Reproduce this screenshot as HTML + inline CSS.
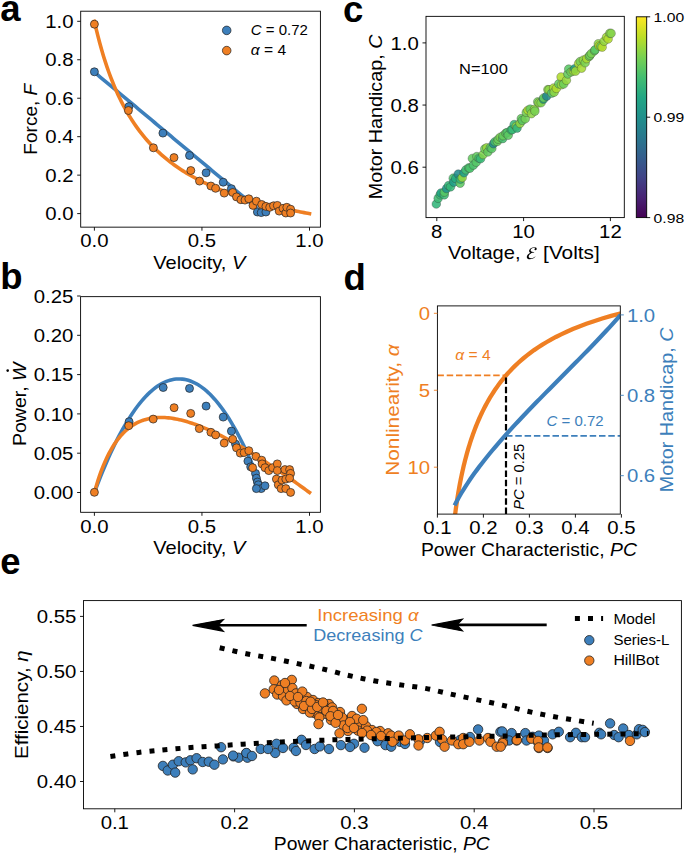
<!DOCTYPE html>
<html><head><meta charset="utf-8"><style>
html,body{margin:0;padding:0;background:#fff;}
svg{display:block;font-family:"Liberation Sans", sans-serif;} text{white-space:pre;}
</style></head><body>
<svg width="685" height="854" viewBox="0 0 685 854">
<rect width="685" height="854" fill="#fff"/>
<defs>
<clipPath id="clipa"><rect x="80.7" y="11.2" width="239.7" height="215.95"/></clipPath>
<clipPath id="clipb"><rect x="80.6" y="296.65" width="239.8" height="215.65"/></clipPath>
<clipPath id="clipc"><rect x="426" y="16.35" width="198.3" height="201.25"/></clipPath>
<clipPath id="clipd"><rect x="437.4" y="305.9" width="182.9" height="208.2"/></clipPath>
<clipPath id="clipe"><rect x="83.5" y="600.6" width="597.9" height="208.2"/></clipPath>
</defs>
<text x="0.20" y="20.90" font-size="36.5" font-weight="bold" fill="#000">a</text>
<g clip-path="url(#clipa)">
<polyline points="94.40,72.18 97.13,74.47 99.87,76.76 102.60,79.04 105.34,81.33 108.07,83.62 110.81,85.90 113.54,88.19 116.27,90.48 119.01,92.77 121.74,95.05 124.48,97.34 127.21,99.63 129.95,101.91 132.68,104.20 135.41,106.49 138.15,108.78 140.88,111.06 143.62,113.35 146.35,115.64 149.09,117.92 151.82,120.21 154.56,122.50 157.29,124.79 160.02,127.07 162.76,129.36 165.49,131.65 168.23,133.93 170.96,136.22 173.70,138.51 176.43,140.79 179.16,143.08 181.90,145.37 184.63,147.66 187.37,149.94 190.10,152.23 192.84,154.52 195.57,156.80 198.30,159.09 201.04,161.38 203.77,163.67 206.51,165.95 209.24,168.24 211.98,170.53 214.71,172.81 217.44,175.10 220.18,177.39 222.91,179.67 225.65,181.96 228.38,184.25 231.12,186.54 233.85,188.82 236.58,191.11 239.32,193.40 242.05,195.68 244.79,197.97 247.52,200.26 250.26,202.55 252.99,204.83 255.72,207.12" fill="none" stroke="#3d7fbb" stroke-width="3.60" stroke-linecap="square"/>
<polyline points="94.40,21.30 96.21,29.12 98.02,36.44 99.82,43.32 101.63,49.79 103.44,55.89 105.25,61.64 107.05,67.09 108.86,72.24 110.67,77.13 112.48,81.77 114.28,86.19 116.09,90.39 117.90,94.40 119.71,98.22 121.51,101.87 123.32,105.37 125.13,108.71 126.94,111.91 128.74,114.98 130.55,117.93 132.36,120.77 134.17,123.49 135.97,126.11 137.78,128.63 139.59,131.06 141.40,133.40 143.20,135.66 145.01,137.85 146.82,139.95 148.63,141.99 150.43,143.96 152.24,145.87 154.05,147.71 155.86,149.50 157.66,151.23 159.47,152.91 161.28,154.54 163.09,156.12 164.89,157.66 166.70,159.15 168.51,160.60 170.32,162.01 172.13,163.38 173.93,164.71 175.74,166.01 177.55,167.27 179.36,168.50 181.16,169.70 182.97,170.87 184.78,172.01 186.59,173.12 188.39,174.20 190.20,175.26 192.01,176.29 193.82,177.30 195.62,178.28 197.43,179.24 199.24,180.18 201.05,181.10 202.85,182.00 204.66,182.87 206.47,183.73 208.28,184.57 210.08,185.40 211.89,186.20 213.70,186.99 215.51,187.76 217.31,188.52 219.12,189.26 220.93,189.98 222.74,190.70 224.54,191.39 226.35,192.08 228.16,192.75 229.97,193.41 231.77,194.05 233.58,194.69 235.39,195.31 237.20,195.92 239.01,196.52 240.81,197.10 242.62,197.68 244.43,198.25 246.24,198.81 248.04,199.36 249.85,199.89 251.66,200.42 253.47,200.94 255.27,201.45 257.08,201.96 258.89,202.45 260.70,202.94 262.50,203.42 264.31,203.89 266.12,204.35 267.93,204.81 269.73,205.26 271.54,205.70 273.35,206.13 275.16,206.56 276.96,206.98 278.77,207.40 280.58,207.81 282.39,208.21 284.19,208.61 286.00,209.00 287.81,209.38 289.62,209.76 291.42,210.14 293.23,210.50 295.04,210.87 296.85,211.23 298.65,211.58 300.46,211.93 302.27,212.27 304.08,212.61 305.88,212.94 307.69,213.27 309.50,213.60" fill="none" stroke="#ef7f23" stroke-width="3.60" stroke-linecap="square"/>
<circle cx="94.40" cy="71.80" r="4.00" fill="#3d7fbb" stroke="#222" stroke-width="0.70" />
<circle cx="128.90" cy="106.60" r="4.00" fill="#3d7fbb" stroke="#222" stroke-width="0.70" />
<circle cx="162.90" cy="133.10" r="4.00" fill="#3d7fbb" stroke="#222" stroke-width="0.70" />
<circle cx="189.50" cy="155.50" r="4.00" fill="#3d7fbb" stroke="#222" stroke-width="0.70" />
<circle cx="206.10" cy="172.80" r="4.00" fill="#3d7fbb" stroke="#222" stroke-width="0.70" />
<circle cx="223.20" cy="182.20" r="4.00" fill="#3d7fbb" stroke="#222" stroke-width="0.70" />
<circle cx="231.40" cy="188.70" r="4.00" fill="#3d7fbb" stroke="#222" stroke-width="0.70" />
<circle cx="257.40" cy="212.00" r="4.00" fill="#3d7fbb" stroke="#222" stroke-width="0.70" />
<circle cx="261.20" cy="212.60" r="4.00" fill="#3d7fbb" stroke="#222" stroke-width="0.70" />
<circle cx="265.90" cy="212.00" r="4.00" fill="#3d7fbb" stroke="#222" stroke-width="0.70" />
<circle cx="94.40" cy="24.20" r="4.00" fill="#ef7f23" stroke="#222" stroke-width="0.70" />
<circle cx="128.40" cy="110.50" r="4.00" fill="#ef7f23" stroke="#222" stroke-width="0.70" />
<circle cx="153.40" cy="147.80" r="4.00" fill="#ef7f23" stroke="#222" stroke-width="0.70" />
<circle cx="174.00" cy="157.60" r="4.00" fill="#ef7f23" stroke="#222" stroke-width="0.70" />
<circle cx="190.80" cy="170.50" r="4.00" fill="#ef7f23" stroke="#222" stroke-width="0.70" />
<circle cx="199.50" cy="181.10" r="4.00" fill="#ef7f23" stroke="#222" stroke-width="0.70" />
<circle cx="210.90" cy="186.00" r="4.00" fill="#ef7f23" stroke="#222" stroke-width="0.70" />
<circle cx="215.60" cy="188.30" r="4.00" fill="#ef7f23" stroke="#222" stroke-width="0.70" />
<circle cx="224.20" cy="193.10" r="4.00" fill="#ef7f23" stroke="#222" stroke-width="0.70" />
<circle cx="232.70" cy="192.50" r="4.00" fill="#ef7f23" stroke="#222" stroke-width="0.70" />
<circle cx="236.50" cy="196.90" r="4.00" fill="#ef7f23" stroke="#222" stroke-width="0.70" />
<circle cx="240.90" cy="199.70" r="4.00" fill="#ef7f23" stroke="#222" stroke-width="0.70" />
<circle cx="245.00" cy="200.10" r="4.00" fill="#ef7f23" stroke="#222" stroke-width="0.70" />
<circle cx="248.80" cy="198.80" r="4.00" fill="#ef7f23" stroke="#222" stroke-width="0.70" />
<circle cx="253.00" cy="205.40" r="4.00" fill="#ef7f23" stroke="#222" stroke-width="0.70" />
<circle cx="256.40" cy="201.20" r="4.00" fill="#ef7f23" stroke="#222" stroke-width="0.70" />
<circle cx="261.70" cy="204.50" r="4.00" fill="#ef7f23" stroke="#222" stroke-width="0.70" />
<circle cx="265.90" cy="206.40" r="4.00" fill="#ef7f23" stroke="#222" stroke-width="0.70" />
<circle cx="269.70" cy="207.30" r="4.00" fill="#ef7f23" stroke="#222" stroke-width="0.70" />
<circle cx="273.50" cy="205.80" r="4.00" fill="#ef7f23" stroke="#222" stroke-width="0.70" />
<circle cx="277.30" cy="205.40" r="4.00" fill="#ef7f23" stroke="#222" stroke-width="0.70" />
<circle cx="279.20" cy="211.10" r="4.00" fill="#ef7f23" stroke="#222" stroke-width="0.70" />
<circle cx="283.00" cy="208.30" r="4.00" fill="#ef7f23" stroke="#222" stroke-width="0.70" />
<circle cx="285.80" cy="213.00" r="4.00" fill="#ef7f23" stroke="#222" stroke-width="0.70" />
<circle cx="286.80" cy="207.30" r="4.00" fill="#ef7f23" stroke="#222" stroke-width="0.70" />
<circle cx="290.60" cy="209.20" r="4.00" fill="#ef7f23" stroke="#222" stroke-width="0.70" />
<circle cx="290.60" cy="213.00" r="4.00" fill="#ef7f23" stroke="#222" stroke-width="0.70" />
</g>
<rect x="80.70" y="11.20" width="239.70" height="215.95" fill="none" stroke="#000" stroke-width="0.9"/>
<line x1="77.20" y1="213.60" x2="80.70" y2="213.60" stroke="#000" stroke-width="0.90" />
<text x="73.50" y="220.20" font-size="17.80" fill="#000" text-anchor="end" textLength="28.31" lengthAdjust="spacingAndGlyphs">0.0</text>
<line x1="77.20" y1="175.14" x2="80.70" y2="175.14" stroke="#000" stroke-width="0.90" />
<text x="73.50" y="181.74" font-size="17.80" fill="#000" text-anchor="end" textLength="28.31" lengthAdjust="spacingAndGlyphs">0.2</text>
<line x1="77.20" y1="136.68" x2="80.70" y2="136.68" stroke="#000" stroke-width="0.90" />
<text x="73.50" y="143.28" font-size="17.80" fill="#000" text-anchor="end" textLength="28.31" lengthAdjust="spacingAndGlyphs">0.4</text>
<line x1="77.20" y1="98.22" x2="80.70" y2="98.22" stroke="#000" stroke-width="0.90" />
<text x="73.50" y="104.82" font-size="17.80" fill="#000" text-anchor="end" textLength="28.31" lengthAdjust="spacingAndGlyphs">0.6</text>
<line x1="77.20" y1="59.76" x2="80.70" y2="59.76" stroke="#000" stroke-width="0.90" />
<text x="73.50" y="66.36" font-size="17.80" fill="#000" text-anchor="end" textLength="28.31" lengthAdjust="spacingAndGlyphs">0.8</text>
<line x1="77.20" y1="21.30" x2="80.70" y2="21.30" stroke="#000" stroke-width="0.90" />
<text x="73.50" y="27.90" font-size="17.80" fill="#000" text-anchor="end" textLength="28.31" lengthAdjust="spacingAndGlyphs">1.0</text>
<line x1="94.40" y1="227.15" x2="94.40" y2="230.65" stroke="#000" stroke-width="0.90" />
<text x="94.40" y="247.45" font-size="17.80" fill="#000" text-anchor="middle" textLength="28.31" lengthAdjust="spacingAndGlyphs">0.0</text>
<line x1="201.95" y1="227.15" x2="201.95" y2="230.65" stroke="#000" stroke-width="0.90" />
<text x="201.95" y="247.45" font-size="17.80" fill="#000" text-anchor="middle" textLength="28.31" lengthAdjust="spacingAndGlyphs">0.5</text>
<line x1="309.50" y1="227.15" x2="309.50" y2="230.65" stroke="#000" stroke-width="0.90" />
<text x="309.50" y="247.45" font-size="17.80" fill="#000" text-anchor="middle" textLength="28.31" lengthAdjust="spacingAndGlyphs">1.0</text>
<text x="37.20" y="119.20" font-size="17.80" fill="#000" text-anchor="middle" textLength="70.84" lengthAdjust="spacingAndGlyphs" transform="rotate(-90 37.20 119.20)">Force, <tspan font-style="italic">F</tspan></text>
<text x="199.30" y="268.50" font-size="17.80" fill="#000" text-anchor="middle" textLength="92.07" lengthAdjust="spacingAndGlyphs">Velocity, <tspan font-style="italic">V</tspan></text>
<circle cx="226.70" cy="30.40" r="4.30" fill="#3d7fbb" stroke="#222" stroke-width="0.70" />
<circle cx="226.70" cy="50.60" r="4.30" fill="#ef7f23" stroke="#222" stroke-width="0.70" />
<text x="250.80" y="35.00" font-size="14.00" fill="#000" text-anchor="start" textLength="57.12" lengthAdjust="spacingAndGlyphs"><tspan font-style="italic">C</tspan> = 0.72</text>
<text x="250.80" y="55.00" font-size="14.00" fill="#000" text-anchor="start" textLength="35.42" lengthAdjust="spacingAndGlyphs"><tspan font-style="italic">α</tspan> = 4</text>
<text x="0.20" y="289.20" font-size="36.5" font-weight="bold" fill="#000">b</text>
<g clip-path="url(#clipb)">
<polyline points="94.40,492.50 96.44,487.08 98.48,481.79 100.53,476.63 102.57,471.61 104.61,466.72 106.65,461.96 108.69,457.33 110.74,452.84 112.78,448.48 114.82,444.25 116.86,440.16 118.91,436.19 120.95,432.36 122.99,428.66 125.03,425.10 127.07,421.67 129.12,418.37 131.16,415.20 133.20,412.16 135.24,409.26 137.28,406.49 139.33,403.85 141.37,401.35 143.41,398.98 145.45,396.74 147.49,394.63 149.54,392.65 151.58,390.81 153.62,389.10 155.66,387.52 157.70,386.08 159.75,384.77 161.79,383.59 163.83,382.54 165.87,381.63 167.92,380.85 169.96,380.20 172.00,379.68 174.04,379.30 176.08,379.04 178.13,378.93 180.17,378.94 182.21,379.09 184.25,379.36 186.29,379.78 188.34,380.32 190.38,381.00 192.42,381.81 194.46,382.75 196.50,383.82 198.55,385.03 200.59,386.37 202.63,387.84 204.67,389.44 206.71,391.18 208.76,393.05 210.80,395.05 212.84,397.19 214.88,399.45 216.93,401.85 218.97,404.39 221.01,407.05 223.05,409.85 225.09,412.78 227.14,415.84 229.18,419.03 231.22,422.36 233.26,425.82 235.30,429.42 237.35,433.14 239.39,437.00 241.43,440.99 243.47,445.11 245.51,449.37 247.56,453.76 249.60,458.28 251.64,462.93 253.68,467.72 255.72,472.63" fill="none" stroke="#3d7fbb" stroke-width="3.60" stroke-linecap="square"/>
<polyline points="94.40,492.50 96.21,486.16 98.02,480.33 99.82,474.95 101.63,469.99 103.44,465.41 105.25,461.18 107.05,457.27 108.86,453.66 110.67,450.31 112.48,447.22 114.28,444.36 116.09,441.72 117.90,439.27 119.71,437.02 121.51,434.94 123.32,433.02 125.13,431.25 126.94,429.63 128.74,428.14 130.55,426.78 132.36,425.54 134.17,424.41 135.97,423.38 137.78,422.46 139.59,421.62 141.40,420.88 143.20,420.22 145.01,419.64 146.82,419.14 148.63,418.71 150.43,418.35 152.24,418.05 154.05,417.82 155.86,417.64 157.66,417.52 159.47,417.46 161.28,417.44 163.09,417.48 164.89,417.56 166.70,417.69 168.51,417.86 170.32,418.07 172.13,418.32 173.93,418.61 175.74,418.94 177.55,419.30 179.36,419.69 181.16,420.12 182.97,420.58 184.78,421.07 186.59,421.58 188.39,422.13 190.20,422.70 192.01,423.29 193.82,423.92 195.62,424.56 197.43,425.23 199.24,425.92 201.05,426.64 202.85,427.37 204.66,428.12 206.47,428.90 208.28,429.69 210.08,430.50 211.89,431.33 213.70,432.18 215.51,433.04 217.31,433.92 219.12,434.81 220.93,435.72 222.74,436.64 224.54,437.58 226.35,438.53 228.16,439.50 229.97,440.48 231.77,441.47 233.58,442.47 235.39,443.49 237.20,444.52 239.01,445.56 240.81,446.61 242.62,447.67 244.43,448.74 246.24,449.82 248.04,450.91 249.85,452.01 251.66,453.12 253.47,454.24 255.27,455.37 257.08,456.51 258.89,457.66 260.70,458.81 262.50,459.97 264.31,461.14 266.12,462.32 267.93,463.51 269.73,464.70 271.54,465.90 273.35,467.11 275.16,468.32 276.96,469.54 278.77,470.77 280.58,472.00 282.39,473.24 284.19,474.49 286.00,475.74 287.81,477.00 289.62,478.26 291.42,479.53 293.23,480.80 295.04,482.08 296.85,483.37 298.65,484.66 300.46,485.95 302.27,487.25 304.08,488.56 305.88,489.87 307.69,491.18 309.50,492.50" fill="none" stroke="#ef7f23" stroke-width="3.60" stroke-linecap="square"/>
<circle cx="129.10" cy="421.70" r="4.00" fill="#3d7fbb" stroke="#222" stroke-width="0.70" />
<circle cx="163.20" cy="387.50" r="4.00" fill="#3d7fbb" stroke="#222" stroke-width="0.70" />
<circle cx="189.50" cy="388.40" r="4.00" fill="#3d7fbb" stroke="#222" stroke-width="0.70" />
<circle cx="206.10" cy="406.10" r="4.00" fill="#3d7fbb" stroke="#222" stroke-width="0.70" />
<circle cx="223.20" cy="417.10" r="4.00" fill="#3d7fbb" stroke="#222" stroke-width="0.70" />
<circle cx="231.40" cy="431.10" r="4.00" fill="#3d7fbb" stroke="#222" stroke-width="0.70" />
<circle cx="235.50" cy="444.00" r="4.00" fill="#3d7fbb" stroke="#222" stroke-width="0.70" />
<circle cx="247.90" cy="461.10" r="4.00" fill="#3d7fbb" stroke="#222" stroke-width="0.70" />
<circle cx="250.70" cy="466.80" r="4.00" fill="#3d7fbb" stroke="#222" stroke-width="0.70" />
<circle cx="255.50" cy="473.40" r="4.00" fill="#3d7fbb" stroke="#222" stroke-width="0.70" />
<circle cx="256.40" cy="478.20" r="4.00" fill="#3d7fbb" stroke="#222" stroke-width="0.70" />
<circle cx="257.40" cy="482.00" r="4.00" fill="#3d7fbb" stroke="#222" stroke-width="0.70" />
<circle cx="258.30" cy="484.80" r="4.00" fill="#3d7fbb" stroke="#222" stroke-width="0.70" />
<circle cx="261.20" cy="488.60" r="4.00" fill="#3d7fbb" stroke="#222" stroke-width="0.70" />
<circle cx="265.00" cy="485.80" r="4.00" fill="#3d7fbb" stroke="#222" stroke-width="0.70" />
<circle cx="256.40" cy="488.60" r="4.00" fill="#3d7fbb" stroke="#222" stroke-width="0.70" />
<circle cx="94.40" cy="492.30" r="4.00" fill="#ef7f23" stroke="#222" stroke-width="0.70" />
<circle cx="128.70" cy="425.70" r="4.00" fill="#ef7f23" stroke="#222" stroke-width="0.70" />
<circle cx="153.20" cy="419.10" r="4.00" fill="#ef7f23" stroke="#222" stroke-width="0.70" />
<circle cx="174.10" cy="407.70" r="4.00" fill="#ef7f23" stroke="#222" stroke-width="0.70" />
<circle cx="190.70" cy="413.40" r="4.00" fill="#ef7f23" stroke="#222" stroke-width="0.70" />
<circle cx="199.30" cy="428.60" r="4.00" fill="#ef7f23" stroke="#222" stroke-width="0.70" />
<circle cx="210.90" cy="432.30" r="4.00" fill="#ef7f23" stroke="#222" stroke-width="0.70" />
<circle cx="215.60" cy="434.90" r="4.00" fill="#ef7f23" stroke="#222" stroke-width="0.70" />
<circle cx="224.20" cy="443.10" r="4.00" fill="#ef7f23" stroke="#222" stroke-width="0.70" />
<circle cx="232.70" cy="439.30" r="4.00" fill="#ef7f23" stroke="#222" stroke-width="0.70" />
<circle cx="236.50" cy="447.80" r="4.00" fill="#ef7f23" stroke="#222" stroke-width="0.70" />
<circle cx="240.30" cy="453.10" r="4.00" fill="#ef7f23" stroke="#222" stroke-width="0.70" />
<circle cx="244.10" cy="452.60" r="4.00" fill="#ef7f23" stroke="#222" stroke-width="0.70" />
<circle cx="248.80" cy="450.70" r="4.00" fill="#ef7f23" stroke="#222" stroke-width="0.70" />
<circle cx="256.00" cy="456.40" r="4.00" fill="#ef7f23" stroke="#222" stroke-width="0.70" />
<circle cx="252.60" cy="467.70" r="4.00" fill="#ef7f23" stroke="#222" stroke-width="0.70" />
<circle cx="261.70" cy="460.20" r="4.00" fill="#ef7f23" stroke="#222" stroke-width="0.70" />
<circle cx="262.10" cy="463.90" r="4.00" fill="#ef7f23" stroke="#222" stroke-width="0.70" />
<circle cx="265.00" cy="467.70" r="4.00" fill="#ef7f23" stroke="#222" stroke-width="0.70" />
<circle cx="268.80" cy="470.60" r="4.00" fill="#ef7f23" stroke="#222" stroke-width="0.70" />
<circle cx="272.60" cy="467.70" r="4.00" fill="#ef7f23" stroke="#222" stroke-width="0.70" />
<circle cx="277.30" cy="463.90" r="4.00" fill="#ef7f23" stroke="#222" stroke-width="0.70" />
<circle cx="277.30" cy="470.60" r="4.00" fill="#ef7f23" stroke="#222" stroke-width="0.70" />
<circle cx="284.90" cy="469.60" r="4.00" fill="#ef7f23" stroke="#222" stroke-width="0.70" />
<circle cx="289.60" cy="469.60" r="4.00" fill="#ef7f23" stroke="#222" stroke-width="0.70" />
<circle cx="290.60" cy="473.40" r="4.00" fill="#ef7f23" stroke="#222" stroke-width="0.70" />
<circle cx="276.40" cy="479.10" r="4.00" fill="#ef7f23" stroke="#222" stroke-width="0.70" />
<circle cx="278.30" cy="484.80" r="4.00" fill="#ef7f23" stroke="#222" stroke-width="0.70" />
<circle cx="282.00" cy="480.10" r="4.00" fill="#ef7f23" stroke="#222" stroke-width="0.70" />
<circle cx="285.80" cy="479.10" r="4.00" fill="#ef7f23" stroke="#222" stroke-width="0.70" />
<circle cx="289.60" cy="478.20" r="4.00" fill="#ef7f23" stroke="#222" stroke-width="0.70" />
<circle cx="281.10" cy="488.60" r="4.00" fill="#ef7f23" stroke="#222" stroke-width="0.70" />
<circle cx="285.80" cy="488.60" r="4.00" fill="#ef7f23" stroke="#222" stroke-width="0.70" />
<circle cx="290.60" cy="492.40" r="4.00" fill="#ef7f23" stroke="#222" stroke-width="0.70" />
</g>
<rect x="80.60" y="296.65" width="239.80" height="215.65" fill="none" stroke="#000" stroke-width="0.9"/>
<line x1="77.10" y1="492.50" x2="80.60" y2="492.50" stroke="#000" stroke-width="0.90" />
<text x="73.40" y="499.10" font-size="17.80" fill="#000" text-anchor="end" textLength="39.63" lengthAdjust="spacingAndGlyphs">0.00</text>
<line x1="77.10" y1="453.20" x2="80.60" y2="453.20" stroke="#000" stroke-width="0.90" />
<text x="73.40" y="459.80" font-size="17.80" fill="#000" text-anchor="end" textLength="39.63" lengthAdjust="spacingAndGlyphs">0.05</text>
<line x1="77.10" y1="413.90" x2="80.60" y2="413.90" stroke="#000" stroke-width="0.90" />
<text x="73.40" y="420.50" font-size="17.80" fill="#000" text-anchor="end" textLength="39.63" lengthAdjust="spacingAndGlyphs">0.10</text>
<line x1="77.10" y1="374.60" x2="80.60" y2="374.60" stroke="#000" stroke-width="0.90" />
<text x="73.40" y="381.20" font-size="17.80" fill="#000" text-anchor="end" textLength="39.63" lengthAdjust="spacingAndGlyphs">0.15</text>
<line x1="77.10" y1="335.30" x2="80.60" y2="335.30" stroke="#000" stroke-width="0.90" />
<text x="73.40" y="341.90" font-size="17.80" fill="#000" text-anchor="end" textLength="39.63" lengthAdjust="spacingAndGlyphs">0.20</text>
<line x1="77.10" y1="296.00" x2="80.60" y2="296.00" stroke="#000" stroke-width="0.90" />
<text x="73.40" y="302.60" font-size="17.80" fill="#000" text-anchor="end" textLength="39.63" lengthAdjust="spacingAndGlyphs">0.25</text>
<line x1="94.40" y1="512.30" x2="94.40" y2="515.80" stroke="#000" stroke-width="0.90" />
<text x="94.40" y="532.60" font-size="17.80" fill="#000" text-anchor="middle" textLength="28.31" lengthAdjust="spacingAndGlyphs">0.0</text>
<line x1="201.95" y1="512.30" x2="201.95" y2="515.80" stroke="#000" stroke-width="0.90" />
<text x="201.95" y="532.60" font-size="17.80" fill="#000" text-anchor="middle" textLength="28.31" lengthAdjust="spacingAndGlyphs">0.5</text>
<line x1="309.50" y1="512.30" x2="309.50" y2="515.80" stroke="#000" stroke-width="0.90" />
<text x="309.50" y="532.60" font-size="17.80" fill="#000" text-anchor="middle" textLength="28.31" lengthAdjust="spacingAndGlyphs">1.0</text>
<text x="26.00" y="404.30" font-size="17.80" fill="#000" text-anchor="middle" textLength="83.48" lengthAdjust="spacingAndGlyphs" transform="rotate(-90 26.00 404.30)">Power, <tspan font-style="italic">W</tspan></text>
<circle cx="7.70" cy="370.60" r="1.30" fill="#000" stroke="none" stroke-width="0.00" />
<text x="199.30" y="553.80" font-size="17.80" fill="#000" text-anchor="middle" textLength="92.07" lengthAdjust="spacingAndGlyphs">Velocity, <tspan font-style="italic">V</tspan></text>
<text x="343.00" y="22.20" font-size="36.5" font-weight="bold" fill="#000">c</text>
<g clip-path="url(#clipc)">
<circle cx="436.30" cy="204.02" r="4.30" fill="#32b57a" stroke="#333" stroke-width="0.60" fill-opacity="0.88" stroke-opacity="0.55"/>
<circle cx="438.17" cy="198.37" r="4.30" fill="#3dbb74" stroke="#333" stroke-width="0.60" fill-opacity="0.88" stroke-opacity="0.55"/>
<circle cx="440.15" cy="194.86" r="4.30" fill="#3bba75" stroke="#333" stroke-width="0.60" fill-opacity="0.88" stroke-opacity="0.55"/>
<circle cx="440.97" cy="192.99" r="4.30" fill="#21a784" stroke="#333" stroke-width="0.60" fill-opacity="0.88" stroke-opacity="0.55"/>
<circle cx="444.29" cy="194.84" r="4.30" fill="#3dbb74" stroke="#333" stroke-width="0.60" fill-opacity="0.88" stroke-opacity="0.55"/>
<circle cx="444.38" cy="192.16" r="4.30" fill="#57c665" stroke="#333" stroke-width="0.60" fill-opacity="0.88" stroke-opacity="0.55"/>
<circle cx="446.55" cy="188.57" r="4.30" fill="#1f958b" stroke="#333" stroke-width="0.60" fill-opacity="0.88" stroke-opacity="0.55"/>
<circle cx="448.67" cy="185.52" r="4.30" fill="#33b679" stroke="#333" stroke-width="0.60" fill-opacity="0.88" stroke-opacity="0.55"/>
<circle cx="450.55" cy="186.85" r="4.30" fill="#35b778" stroke="#333" stroke-width="0.60" fill-opacity="0.88" stroke-opacity="0.55"/>
<circle cx="453.20" cy="178.17" r="4.30" fill="#49c16d" stroke="#333" stroke-width="0.60" fill-opacity="0.88" stroke-opacity="0.55"/>
<circle cx="453.76" cy="182.14" r="4.30" fill="#1e9f88" stroke="#333" stroke-width="0.60" fill-opacity="0.88" stroke-opacity="0.55"/>
<circle cx="455.68" cy="178.56" r="4.30" fill="#27ad80" stroke="#333" stroke-width="0.60" fill-opacity="0.88" stroke-opacity="0.55"/>
<circle cx="458.25" cy="174.10" r="4.30" fill="#228b8d" stroke="#333" stroke-width="0.60" fill-opacity="0.88" stroke-opacity="0.55"/>
<circle cx="460.13" cy="183.28" r="4.30" fill="#5bc862" stroke="#333" stroke-width="0.60" fill-opacity="0.88" stroke-opacity="0.55"/>
<circle cx="460.42" cy="179.13" r="4.30" fill="#33b679" stroke="#333" stroke-width="0.60" fill-opacity="0.88" stroke-opacity="0.55"/>
<circle cx="462.21" cy="177.66" r="4.30" fill="#92d741" stroke="#333" stroke-width="0.60" fill-opacity="0.88" stroke-opacity="0.55"/>
<circle cx="464.04" cy="172.75" r="4.30" fill="#1ea087" stroke="#333" stroke-width="0.60" fill-opacity="0.88" stroke-opacity="0.55"/>
<circle cx="465.91" cy="169.87" r="4.30" fill="#42be71" stroke="#333" stroke-width="0.60" fill-opacity="0.88" stroke-opacity="0.55"/>
<circle cx="468.67" cy="167.91" r="4.30" fill="#4bc26c" stroke="#333" stroke-width="0.60" fill-opacity="0.88" stroke-opacity="0.55"/>
<circle cx="469.89" cy="168.26" r="4.30" fill="#4bc26c" stroke="#333" stroke-width="0.60" fill-opacity="0.88" stroke-opacity="0.55"/>
<circle cx="472.34" cy="158.43" r="4.30" fill="#62ca5f" stroke="#333" stroke-width="0.60" fill-opacity="0.88" stroke-opacity="0.55"/>
<circle cx="473.38" cy="165.15" r="4.30" fill="#4dc26b" stroke="#333" stroke-width="0.60" fill-opacity="0.88" stroke-opacity="0.55"/>
<circle cx="476.21" cy="162.26" r="4.30" fill="#55c666" stroke="#333" stroke-width="0.60" fill-opacity="0.88" stroke-opacity="0.55"/>
<circle cx="476.81" cy="156.53" r="4.30" fill="#62ca5f" stroke="#333" stroke-width="0.60" fill-opacity="0.88" stroke-opacity="0.55"/>
<circle cx="479.03" cy="158.24" r="4.30" fill="#44be70" stroke="#333" stroke-width="0.60" fill-opacity="0.88" stroke-opacity="0.55"/>
<circle cx="480.57" cy="158.71" r="4.30" fill="#39b976" stroke="#333" stroke-width="0.60" fill-opacity="0.88" stroke-opacity="0.55"/>
<circle cx="483.07" cy="154.60" r="4.30" fill="#7ed24e" stroke="#333" stroke-width="0.60" fill-opacity="0.88" stroke-opacity="0.55"/>
<circle cx="484.76" cy="148.88" r="4.30" fill="#6dce58" stroke="#333" stroke-width="0.60" fill-opacity="0.88" stroke-opacity="0.55"/>
<circle cx="486.74" cy="147.71" r="4.30" fill="#97d83e" stroke="#333" stroke-width="0.60" fill-opacity="0.88" stroke-opacity="0.55"/>
<circle cx="487.92" cy="151.98" r="4.30" fill="#62ca5f" stroke="#333" stroke-width="0.60" fill-opacity="0.88" stroke-opacity="0.55"/>
<circle cx="490.32" cy="147.71" r="4.30" fill="#57c665" stroke="#333" stroke-width="0.60" fill-opacity="0.88" stroke-opacity="0.55"/>
<circle cx="491.85" cy="148.55" r="4.30" fill="#59c764" stroke="#333" stroke-width="0.60" fill-opacity="0.88" stroke-opacity="0.55"/>
<circle cx="493.44" cy="143.73" r="4.30" fill="#228b8d" stroke="#333" stroke-width="0.60" fill-opacity="0.88" stroke-opacity="0.55"/>
<circle cx="494.92" cy="141.77" r="4.30" fill="#44be70" stroke="#333" stroke-width="0.60" fill-opacity="0.88" stroke-opacity="0.55"/>
<circle cx="497.33" cy="141.45" r="4.30" fill="#67cc5c" stroke="#333" stroke-width="0.60" fill-opacity="0.88" stroke-opacity="0.55"/>
<circle cx="498.26" cy="139.26" r="4.30" fill="#69cc5b" stroke="#333" stroke-width="0.60" fill-opacity="0.88" stroke-opacity="0.55"/>
<circle cx="500.26" cy="137.23" r="4.30" fill="#79d151" stroke="#333" stroke-width="0.60" fill-opacity="0.88" stroke-opacity="0.55"/>
<circle cx="502.75" cy="138.60" r="4.30" fill="#44be70" stroke="#333" stroke-width="0.60" fill-opacity="0.88" stroke-opacity="0.55"/>
<circle cx="503.03" cy="135.77" r="4.30" fill="#67cc5c" stroke="#333" stroke-width="0.60" fill-opacity="0.88" stroke-opacity="0.55"/>
<circle cx="505.80" cy="133.14" r="4.30" fill="#64cb5d" stroke="#333" stroke-width="0.60" fill-opacity="0.88" stroke-opacity="0.55"/>
<circle cx="507.18" cy="132.61" r="4.30" fill="#4fc369" stroke="#333" stroke-width="0.60" fill-opacity="0.88" stroke-opacity="0.55"/>
<circle cx="508.23" cy="135.25" r="4.30" fill="#5bc862" stroke="#333" stroke-width="0.60" fill-opacity="0.88" stroke-opacity="0.55"/>
<circle cx="511.17" cy="129.87" r="4.30" fill="#3ebc73" stroke="#333" stroke-width="0.60" fill-opacity="0.88" stroke-opacity="0.55"/>
<circle cx="512.26" cy="129.70" r="4.30" fill="#38b976" stroke="#333" stroke-width="0.60" fill-opacity="0.88" stroke-opacity="0.55"/>
<circle cx="514.15" cy="124.56" r="4.30" fill="#39b976" stroke="#333" stroke-width="0.60" fill-opacity="0.88" stroke-opacity="0.55"/>
<circle cx="516.29" cy="126.24" r="4.30" fill="#88d547" stroke="#333" stroke-width="0.60" fill-opacity="0.88" stroke-opacity="0.55"/>
<circle cx="517.09" cy="128.09" r="4.30" fill="#32b57a" stroke="#333" stroke-width="0.60" fill-opacity="0.88" stroke-opacity="0.55"/>
<circle cx="520.01" cy="123.41" r="4.30" fill="#90d643" stroke="#333" stroke-width="0.60" fill-opacity="0.88" stroke-opacity="0.55"/>
<circle cx="521.27" cy="118.59" r="4.30" fill="#64cb5d" stroke="#333" stroke-width="0.60" fill-opacity="0.88" stroke-opacity="0.55"/>
<circle cx="522.32" cy="120.45" r="4.30" fill="#5bc862" stroke="#333" stroke-width="0.60" fill-opacity="0.88" stroke-opacity="0.55"/>
<circle cx="525.27" cy="118.82" r="4.30" fill="#72cf55" stroke="#333" stroke-width="0.60" fill-opacity="0.88" stroke-opacity="0.55"/>
<circle cx="526.26" cy="112.37" r="4.30" fill="#74d054" stroke="#333" stroke-width="0.60" fill-opacity="0.88" stroke-opacity="0.55"/>
<circle cx="527.93" cy="110.28" r="4.30" fill="#b2dd2c" stroke="#333" stroke-width="0.60" fill-opacity="0.88" stroke-opacity="0.55"/>
<circle cx="530.13" cy="109.12" r="4.30" fill="#64cb5d" stroke="#333" stroke-width="0.60" fill-opacity="0.88" stroke-opacity="0.55"/>
<circle cx="531.47" cy="113.67" r="4.30" fill="#8dd644" stroke="#333" stroke-width="0.60" fill-opacity="0.88" stroke-opacity="0.55"/>
<circle cx="534.45" cy="109.25" r="4.30" fill="#92d741" stroke="#333" stroke-width="0.60" fill-opacity="0.88" stroke-opacity="0.55"/>
<circle cx="534.90" cy="111.10" r="4.30" fill="#79d151" stroke="#333" stroke-width="0.60" fill-opacity="0.88" stroke-opacity="0.55"/>
<circle cx="537.69" cy="101.85" r="4.30" fill="#72cf55" stroke="#333" stroke-width="0.60" fill-opacity="0.88" stroke-opacity="0.55"/>
<circle cx="539.00" cy="102.80" r="4.30" fill="#90d643" stroke="#333" stroke-width="0.60" fill-opacity="0.88" stroke-opacity="0.55"/>
<circle cx="541.08" cy="102.74" r="4.30" fill="#7cd24f" stroke="#333" stroke-width="0.60" fill-opacity="0.88" stroke-opacity="0.55"/>
<circle cx="543.48" cy="99.26" r="4.30" fill="#1fa386" stroke="#333" stroke-width="0.60" fill-opacity="0.88" stroke-opacity="0.55"/>
<circle cx="543.59" cy="97.94" r="4.30" fill="#64cb5d" stroke="#333" stroke-width="0.60" fill-opacity="0.88" stroke-opacity="0.55"/>
<circle cx="546.68" cy="96.24" r="4.30" fill="#23898d" stroke="#333" stroke-width="0.60" fill-opacity="0.88" stroke-opacity="0.55"/>
<circle cx="547.86" cy="89.60" r="4.30" fill="#88d547" stroke="#333" stroke-width="0.60" fill-opacity="0.88" stroke-opacity="0.55"/>
<circle cx="549.07" cy="89.73" r="4.30" fill="#8dd644" stroke="#333" stroke-width="0.60" fill-opacity="0.88" stroke-opacity="0.55"/>
<circle cx="551.71" cy="93.15" r="4.30" fill="#55c666" stroke="#333" stroke-width="0.60" fill-opacity="0.88" stroke-opacity="0.55"/>
<circle cx="553.58" cy="87.98" r="4.30" fill="#a7db33" stroke="#333" stroke-width="0.60" fill-opacity="0.88" stroke-opacity="0.55"/>
<circle cx="554.16" cy="92.19" r="4.30" fill="#8bd546" stroke="#333" stroke-width="0.60" fill-opacity="0.88" stroke-opacity="0.55"/>
<circle cx="556.39" cy="88.40" r="4.30" fill="#afdc2e" stroke="#333" stroke-width="0.60" fill-opacity="0.88" stroke-opacity="0.55"/>
<circle cx="558.77" cy="83.90" r="4.30" fill="#67cc5c" stroke="#333" stroke-width="0.60" fill-opacity="0.88" stroke-opacity="0.55"/>
<circle cx="561.05" cy="76.93" r="4.30" fill="#afdc2e" stroke="#333" stroke-width="0.60" fill-opacity="0.88" stroke-opacity="0.55"/>
<circle cx="561.45" cy="84.82" r="4.30" fill="#95d73f" stroke="#333" stroke-width="0.60" fill-opacity="0.88" stroke-opacity="0.55"/>
<circle cx="563.66" cy="84.06" r="4.30" fill="#6dce58" stroke="#333" stroke-width="0.60" fill-opacity="0.88" stroke-opacity="0.55"/>
<circle cx="566.43" cy="80.33" r="4.30" fill="#95d73f" stroke="#333" stroke-width="0.60" fill-opacity="0.88" stroke-opacity="0.55"/>
<circle cx="567.81" cy="74.04" r="4.30" fill="#64cb5d" stroke="#333" stroke-width="0.60" fill-opacity="0.88" stroke-opacity="0.55"/>
<circle cx="568.68" cy="69.07" r="4.30" fill="#59c764" stroke="#333" stroke-width="0.60" fill-opacity="0.88" stroke-opacity="0.55"/>
<circle cx="571.02" cy="71.96" r="4.30" fill="#72cf55" stroke="#333" stroke-width="0.60" fill-opacity="0.88" stroke-opacity="0.55"/>
<circle cx="573.36" cy="70.92" r="4.30" fill="#9ad83c" stroke="#333" stroke-width="0.60" fill-opacity="0.88" stroke-opacity="0.55"/>
<circle cx="574.59" cy="68.84" r="4.30" fill="#1fa187" stroke="#333" stroke-width="0.60" fill-opacity="0.88" stroke-opacity="0.55"/>
<circle cx="575.50" cy="71.17" r="4.30" fill="#9dd93a" stroke="#333" stroke-width="0.60" fill-opacity="0.88" stroke-opacity="0.55"/>
<circle cx="578.55" cy="63.47" r="4.30" fill="#aadb32" stroke="#333" stroke-width="0.60" fill-opacity="0.88" stroke-opacity="0.55"/>
<circle cx="580.21" cy="61.50" r="4.30" fill="#77d052" stroke="#333" stroke-width="0.60" fill-opacity="0.88" stroke-opacity="0.55"/>
<circle cx="581.57" cy="68.20" r="4.30" fill="#a7db33" stroke="#333" stroke-width="0.60" fill-opacity="0.88" stroke-opacity="0.55"/>
<circle cx="583.40" cy="60.01" r="4.30" fill="#90d643" stroke="#333" stroke-width="0.60" fill-opacity="0.88" stroke-opacity="0.55"/>
<circle cx="585.16" cy="62.78" r="4.30" fill="#7cd24f" stroke="#333" stroke-width="0.60" fill-opacity="0.88" stroke-opacity="0.55"/>
<circle cx="586.68" cy="58.63" r="4.30" fill="#aadb32" stroke="#333" stroke-width="0.60" fill-opacity="0.88" stroke-opacity="0.55"/>
<circle cx="589.29" cy="56.39" r="4.30" fill="#70ce56" stroke="#333" stroke-width="0.60" fill-opacity="0.88" stroke-opacity="0.55"/>
<circle cx="589.91" cy="55.31" r="4.30" fill="#6dce58" stroke="#333" stroke-width="0.60" fill-opacity="0.88" stroke-opacity="0.55"/>
<circle cx="591.37" cy="53.51" r="4.30" fill="#79d151" stroke="#333" stroke-width="0.60" fill-opacity="0.88" stroke-opacity="0.55"/>
<circle cx="594.51" cy="50.75" r="4.30" fill="#6bcd59" stroke="#333" stroke-width="0.60" fill-opacity="0.88" stroke-opacity="0.55"/>
<circle cx="594.98" cy="49.85" r="4.30" fill="#59c764" stroke="#333" stroke-width="0.60" fill-opacity="0.88" stroke-opacity="0.55"/>
<circle cx="598.27" cy="43.77" r="4.30" fill="#8dd644" stroke="#333" stroke-width="0.60" fill-opacity="0.88" stroke-opacity="0.55"/>
<circle cx="599.17" cy="45.92" r="4.30" fill="#bfdf24" stroke="#333" stroke-width="0.60" fill-opacity="0.88" stroke-opacity="0.55"/>
<circle cx="600.74" cy="46.32" r="4.30" fill="#6bcd59" stroke="#333" stroke-width="0.60" fill-opacity="0.88" stroke-opacity="0.55"/>
<circle cx="602.17" cy="47.14" r="4.30" fill="#b7dd29" stroke="#333" stroke-width="0.60" fill-opacity="0.88" stroke-opacity="0.55"/>
<circle cx="604.12" cy="41.26" r="4.30" fill="#95d73f" stroke="#333" stroke-width="0.60" fill-opacity="0.88" stroke-opacity="0.55"/>
<circle cx="606.58" cy="37.09" r="4.30" fill="#a2da37" stroke="#333" stroke-width="0.60" fill-opacity="0.88" stroke-opacity="0.55"/>
<circle cx="608.16" cy="38.97" r="4.30" fill="#b2dd2c" stroke="#333" stroke-width="0.60" fill-opacity="0.88" stroke-opacity="0.55"/>
<circle cx="609.80" cy="33.28" r="4.30" fill="#83d34b" stroke="#333" stroke-width="0.60" fill-opacity="0.88" stroke-opacity="0.55"/>
<circle cx="611.08" cy="33.39" r="4.30" fill="#86d449" stroke="#333" stroke-width="0.60" fill-opacity="0.88" stroke-opacity="0.55"/>
</g>
<rect x="426.00" y="16.35" width="198.30" height="201.25" fill="none" stroke="#000" stroke-width="0.9"/>
<line x1="422.50" y1="42.90" x2="426.00" y2="42.90" stroke="#000" stroke-width="0.90" />
<text x="418.80" y="49.50" font-size="17.80" fill="#000" text-anchor="end" textLength="28.31" lengthAdjust="spacingAndGlyphs">1.0</text>
<line x1="422.50" y1="105.05" x2="426.00" y2="105.05" stroke="#000" stroke-width="0.90" />
<text x="418.80" y="111.65" font-size="17.80" fill="#000" text-anchor="end" textLength="28.31" lengthAdjust="spacingAndGlyphs">0.8</text>
<line x1="422.50" y1="167.20" x2="426.00" y2="167.20" stroke="#000" stroke-width="0.90" />
<text x="418.80" y="173.80" font-size="17.80" fill="#000" text-anchor="end" textLength="28.31" lengthAdjust="spacingAndGlyphs">0.6</text>
<line x1="436.80" y1="217.60" x2="436.80" y2="221.10" stroke="#000" stroke-width="0.90" />
<text x="436.80" y="237.90" font-size="17.80" fill="#000" text-anchor="middle" textLength="11.33" lengthAdjust="spacingAndGlyphs">8</text>
<line x1="523.60" y1="217.60" x2="523.60" y2="221.10" stroke="#000" stroke-width="0.90" />
<text x="523.60" y="237.90" font-size="17.80" fill="#000" text-anchor="middle" textLength="22.65" lengthAdjust="spacingAndGlyphs">10</text>
<line x1="610.40" y1="217.60" x2="610.40" y2="221.10" stroke="#000" stroke-width="0.90" />
<text x="610.40" y="237.90" font-size="17.80" fill="#000" text-anchor="middle" textLength="22.65" lengthAdjust="spacingAndGlyphs">12</text>
<text x="382.20" y="116.90" font-size="17.80" fill="#000" text-anchor="middle" textLength="164.65" lengthAdjust="spacingAndGlyphs" transform="rotate(-90 382.20 116.90)">Motor Handicap, <tspan font-style="italic">C</tspan></text>
<text x="447.97" y="259.10" font-size="17.80" fill="#000" text-anchor="start" textLength="78.09" lengthAdjust="spacingAndGlyphs">Voltage, </text>
<path d="M535.15,256.39 L535.44,256.71 Q534.10,258.14 532.38,258.74 Q531.22,259.17 529.76,259.17 Q528.55,259.17 527.66,258.63 Q526.77,258.08 526.77,257.05 Q526.77,255.58 527.89,254.51 Q529.01,253.44 530.56,252.82 Q530.19,252.64 529.99,252.51 Q529.80,252.39 529.55,252.17 Q529.31,251.94 529.21,251.62 Q529.10,251.30 529.10,250.86 Q529.10,249.90 529.95,249.01 Q530.81,248.12 531.93,247.65 Q533.05,247.17 533.98,247.17 Q535.22,247.17 535.97,247.62 Q536.72,248.06 536.72,248.94 Q536.72,249.33 536.40,249.82 Q536.08,250.31 535.44,250.31 Q535.06,250.31 534.77,250.06 Q534.48,249.81 534.48,249.44 Q534.48,249.03 534.74,248.72 Q535.01,248.42 535.01,248.37 Q535.01,248.03 534.81,247.89 Q534.62,247.76 534.17,247.76 Q532.82,247.76 531.73,248.55 Q530.63,249.35 530.63,250.33 Q530.63,251.05 531.29,251.47 Q531.95,251.89 533.02,251.89 L534.23,251.89 L534.07,252.57 Q533.30,252.57 532.38,252.86 Q531.47,253.15 530.63,253.65 Q529.80,254.15 529.23,254.94 Q528.67,255.73 528.67,256.61 Q528.67,257.39 529.27,257.80 Q529.87,258.21 530.90,258.21 Q531.98,258.21 533.22,257.67 Q534.46,257.13 535.15,256.39 Z" fill="#000"/>
<text x="537.33" y="259.10" font-size="17.80" fill="#000" text-anchor="start" textLength="62.43" lengthAdjust="spacingAndGlyphs"> [Volts]</text>
<text x="459.00" y="74.00" font-size="14.00" fill="#000" text-anchor="start" textLength="48.93" lengthAdjust="spacingAndGlyphs">N=100</text>
<defs><linearGradient id="vir" x1="0" y1="0" x2="0" y2="1"><stop offset="0.00" stop-color="#fde724"/><stop offset="0.10" stop-color="#bdde26"/><stop offset="0.20" stop-color="#79d151"/><stop offset="0.30" stop-color="#44be70"/><stop offset="0.40" stop-color="#22a784"/><stop offset="0.50" stop-color="#20908c"/><stop offset="0.60" stop-color="#29788e"/><stop offset="0.70" stop-color="#345e8d"/><stop offset="0.80" stop-color="#404387"/><stop offset="0.90" stop-color="#482374"/><stop offset="1.00" stop-color="#440154"/></linearGradient></defs>
<rect x="636.3" y="16.8" width="10.4" height="200.8" fill="url(#vir)" stroke="#000" stroke-width="0.9"/>
<line x1="646.70" y1="16.80" x2="650.20" y2="16.80" stroke="#000" stroke-width="0.90" />
<text x="653.60" y="22.00" font-size="13.70" fill="#000" text-anchor="start" textLength="30.50" lengthAdjust="spacingAndGlyphs">1.00</text>
<line x1="646.70" y1="117.20" x2="650.20" y2="117.20" stroke="#000" stroke-width="0.90" />
<text x="653.60" y="122.40" font-size="13.70" fill="#000" text-anchor="start" textLength="30.50" lengthAdjust="spacingAndGlyphs">0.99</text>
<line x1="646.70" y1="217.60" x2="650.20" y2="217.60" stroke="#000" stroke-width="0.90" />
<text x="653.60" y="222.80" font-size="13.70" fill="#000" text-anchor="start" textLength="30.50" lengthAdjust="spacingAndGlyphs">0.98</text>
<text x="343.50" y="290.30" font-size="36.5" font-weight="bold" fill="#000">d</text>
<g clip-path="url(#clipd)">
<polyline points="621.03,313.30 611.20,315.93 602.21,318.56 593.96,321.19 586.36,323.82 579.34,326.45 572.83,329.08 566.78,331.71 561.14,334.34 555.88,336.97 550.96,339.60 546.35,342.23 542.01,344.86 537.93,347.49 534.09,350.12 530.46,352.75 527.03,355.38 523.78,358.01 520.71,360.64 517.79,363.27 515.01,365.90 512.37,368.53 509.86,371.16 507.46,373.79 505.18,376.42 502.99,379.05 500.91,381.68 498.91,384.31 497.00,386.94 495.17,389.57 493.42,392.20 491.74,394.83 490.12,397.46 488.57,400.09 487.08,402.72 485.65,405.35 484.27,407.98 482.95,410.61 481.67,413.24 480.44,415.87 479.26,418.50 478.11,421.13 477.01,423.76 475.95,426.39 474.92,429.02 473.93,431.65 472.98,434.28 472.05,436.91 471.16,439.54 470.30,442.17 469.47,444.80 468.66,447.43 467.88,450.06 467.13,452.69 466.40,455.32 465.70,457.95 465.02,460.58 464.36,463.21 463.72,465.84 463.10,468.47 462.51,471.10 461.93,473.73 461.37,476.36 460.83,478.99 460.31,481.62 459.81,484.25 459.32,486.88 458.85,489.51 458.39,492.14 457.95,494.77 457.53,497.40 457.12,500.03 456.72,502.66 456.34,505.29 455.97,507.92 455.62,510.55 455.28,513.18 454.95,515.81 454.63,518.44 454.33,521.07" fill="none" stroke="#ef7f23" stroke-width="4.3"/>
<line x1="437.40" y1="375.30" x2="506.00" y2="375.30" stroke="#ef7f23" stroke-width="1.80" stroke-dasharray="6.5,2.8"/>
<line x1="506.00" y1="514.10" x2="506.00" y2="375.30" stroke="#000" stroke-width="2.20" stroke-dasharray="6.5,2.8"/>
<line x1="506.00" y1="435.90" x2="620.30" y2="435.90" stroke="#3d7fbb" stroke-width="1.80" stroke-dasharray="6.5,2.8"/>
<polyline points="620.63,314.90 617.78,318.13 614.89,321.36 611.97,324.59 609.01,327.82 606.03,331.04 603.01,334.27 599.97,337.50 596.90,340.73 593.81,343.96 590.70,347.19 587.58,350.42 584.43,353.65 581.27,356.87 578.10,360.10 574.92,363.33 571.72,366.56 568.52,369.79 565.32,373.02 562.11,376.25 558.91,379.48 555.70,382.71 552.50,385.93 549.30,389.16 546.11,392.39 542.93,395.62 539.76,398.85 536.61,402.08 533.47,405.31 530.34,408.54 527.24,411.76 524.15,414.99 521.09,418.22 518.06,421.45 515.05,424.68 512.07,427.91 509.12,431.14 506.21,434.37 503.33,437.59 500.49,440.82 497.69,444.05 494.93,447.28 492.21,450.51 489.53,453.74 486.91,456.97 484.33,460.20 481.81,463.43 479.33,466.65 476.92,469.88 474.56,473.11 472.26,476.34 470.02,479.57 467.84,482.80 465.73,486.03 463.68,489.26 461.71,492.48 459.81,495.71 457.97,498.94 456.22,502.17 454.54,505.40" fill="none" stroke="#3d7fbb" stroke-width="4.2"/>
</g>
<rect x="437.40" y="305.90" width="182.90" height="208.20" fill="none" stroke="#000" stroke-width="0.9"/>
<line x1="433.90" y1="313.30" x2="437.40" y2="313.30" stroke="#ef7f23" stroke-width="0.90" />
<text x="430.20" y="319.90" font-size="17.80" fill="#ef7f23" text-anchor="end" textLength="11.33" lengthAdjust="spacingAndGlyphs">0</text>
<line x1="433.90" y1="390.25" x2="437.40" y2="390.25" stroke="#ef7f23" stroke-width="0.90" />
<text x="430.20" y="396.85" font-size="17.80" fill="#ef7f23" text-anchor="end" textLength="11.33" lengthAdjust="spacingAndGlyphs">5</text>
<line x1="433.90" y1="467.20" x2="437.40" y2="467.20" stroke="#ef7f23" stroke-width="0.90" />
<text x="430.20" y="473.80" font-size="17.80" fill="#ef7f23" text-anchor="end" textLength="22.65" lengthAdjust="spacingAndGlyphs">10</text>
<line x1="620.30" y1="314.90" x2="623.80" y2="314.90" stroke="#3d7fbb" stroke-width="0.90" />
<text x="626.90" y="321.50" font-size="17.80" fill="#3d7fbb" text-anchor="start" textLength="28.31" lengthAdjust="spacingAndGlyphs">1.0</text>
<line x1="620.30" y1="395.30" x2="623.80" y2="395.30" stroke="#3d7fbb" stroke-width="0.90" />
<text x="626.90" y="401.90" font-size="17.80" fill="#3d7fbb" text-anchor="start" textLength="28.31" lengthAdjust="spacingAndGlyphs">0.8</text>
<line x1="620.30" y1="475.70" x2="623.80" y2="475.70" stroke="#3d7fbb" stroke-width="0.90" />
<text x="626.90" y="482.30" font-size="17.80" fill="#3d7fbb" text-anchor="start" textLength="28.31" lengthAdjust="spacingAndGlyphs">0.6</text>
<line x1="437.40" y1="514.10" x2="437.40" y2="517.60" stroke="#000" stroke-width="0.90" />
<text x="437.40" y="534.40" font-size="17.80" fill="#000" text-anchor="middle" textLength="28.31" lengthAdjust="spacingAndGlyphs">0.1</text>
<line x1="483.40" y1="514.10" x2="483.40" y2="517.60" stroke="#000" stroke-width="0.90" />
<text x="483.40" y="534.40" font-size="17.80" fill="#000" text-anchor="middle" textLength="28.31" lengthAdjust="spacingAndGlyphs">0.2</text>
<line x1="529.40" y1="514.10" x2="529.40" y2="517.60" stroke="#000" stroke-width="0.90" />
<text x="529.40" y="534.40" font-size="17.80" fill="#000" text-anchor="middle" textLength="28.31" lengthAdjust="spacingAndGlyphs">0.3</text>
<line x1="575.40" y1="514.10" x2="575.40" y2="517.60" stroke="#000" stroke-width="0.90" />
<text x="575.40" y="534.40" font-size="17.80" fill="#000" text-anchor="middle" textLength="28.31" lengthAdjust="spacingAndGlyphs">0.4</text>
<line x1="621.40" y1="514.10" x2="621.40" y2="517.60" stroke="#000" stroke-width="0.90" />
<text x="621.40" y="534.40" font-size="17.80" fill="#000" text-anchor="middle" textLength="28.31" lengthAdjust="spacingAndGlyphs">0.5</text>
<text x="398.60" y="409.95" font-size="17.80" fill="#ef7f23" text-anchor="middle" textLength="131.36" lengthAdjust="spacingAndGlyphs" transform="rotate(-90 398.60 409.95)">Nonlinearity, <tspan font-style="italic">α</tspan></text>
<text x="672.80" y="409.80" font-size="17.80" fill="#3d7fbb" text-anchor="middle" textLength="164.65" lengthAdjust="spacingAndGlyphs" transform="rotate(-90 672.80 409.80)">Motor Handicap, <tspan font-style="italic">C</tspan></text>
<text x="528.90" y="555.60" font-size="17.80" fill="#000" text-anchor="middle" textLength="215.91" lengthAdjust="spacingAndGlyphs">Power Characteristic, <tspan font-style="italic">PC</tspan></text>
<text x="455.20" y="360.30" font-size="14.00" fill="#ef7f23" text-anchor="start" textLength="35.42" lengthAdjust="spacingAndGlyphs"><tspan font-style="italic">α</tspan> = 4</text>
<text x="546.50" y="426.00" font-size="14.00" fill="#3d7fbb" text-anchor="start" textLength="57.12" lengthAdjust="spacingAndGlyphs"><tspan font-style="italic">C</tspan> = 0.72</text>
<text x="524.20" y="476.80" font-size="14.00" fill="#000" text-anchor="middle" textLength="65.94" lengthAdjust="spacingAndGlyphs" transform="rotate(-90 524.20 476.80)"><tspan font-style="italic">PC</tspan> = 0.25</text>
<text x="0.20" y="574.40" font-size="36.5" font-weight="bold" fill="#000">e</text>
<g clip-path="url(#clipe)">
<circle cx="162.90" cy="765.90" r="4.70" fill="#3d7fbb" stroke="#222" stroke-width="0.80" />
<circle cx="167.70" cy="770.50" r="4.70" fill="#3d7fbb" stroke="#222" stroke-width="0.80" />
<circle cx="172.90" cy="764.70" r="4.70" fill="#3d7fbb" stroke="#222" stroke-width="0.80" />
<circle cx="175.20" cy="772.60" r="4.70" fill="#3d7fbb" stroke="#222" stroke-width="0.80" />
<circle cx="178.70" cy="761.20" r="4.70" fill="#3d7fbb" stroke="#222" stroke-width="0.80" />
<circle cx="185.70" cy="762.40" r="4.70" fill="#3d7fbb" stroke="#222" stroke-width="0.80" />
<circle cx="190.40" cy="760.30" r="4.70" fill="#3d7fbb" stroke="#222" stroke-width="0.80" />
<circle cx="192.70" cy="769.40" r="4.70" fill="#3d7fbb" stroke="#222" stroke-width="0.80" />
<circle cx="196.60" cy="758.20" r="4.70" fill="#3d7fbb" stroke="#222" stroke-width="0.80" />
<circle cx="202.70" cy="762.00" r="4.70" fill="#3d7fbb" stroke="#222" stroke-width="0.80" />
<circle cx="208.80" cy="761.70" r="4.70" fill="#3d7fbb" stroke="#222" stroke-width="0.80" />
<circle cx="214.40" cy="764.70" r="4.70" fill="#3d7fbb" stroke="#222" stroke-width="0.80" />
<circle cx="221.10" cy="747.20" r="4.70" fill="#3d7fbb" stroke="#222" stroke-width="0.80" />
<circle cx="222.90" cy="759.40" r="4.70" fill="#3d7fbb" stroke="#222" stroke-width="0.80" />
<circle cx="233.40" cy="756.40" r="4.70" fill="#3d7fbb" stroke="#222" stroke-width="0.80" />
<circle cx="238.60" cy="757.70" r="4.70" fill="#3d7fbb" stroke="#222" stroke-width="0.80" />
<circle cx="246.50" cy="753.30" r="4.70" fill="#3d7fbb" stroke="#222" stroke-width="0.80" />
<circle cx="247.40" cy="757.70" r="4.70" fill="#3d7fbb" stroke="#222" stroke-width="0.80" />
<circle cx="233.10" cy="755.60" r="4.70" fill="#3d7fbb" stroke="#222" stroke-width="0.80" />
<circle cx="246.30" cy="753.00" r="4.70" fill="#3d7fbb" stroke="#222" stroke-width="0.80" />
<circle cx="260.70" cy="749.00" r="4.70" fill="#3d7fbb" stroke="#222" stroke-width="0.80" />
<circle cx="276.50" cy="743.80" r="4.70" fill="#3d7fbb" stroke="#222" stroke-width="0.80" />
<circle cx="275.20" cy="753.00" r="4.70" fill="#3d7fbb" stroke="#222" stroke-width="0.80" />
<circle cx="293.60" cy="747.70" r="4.70" fill="#3d7fbb" stroke="#222" stroke-width="0.80" />
<circle cx="301.50" cy="739.80" r="4.70" fill="#3d7fbb" stroke="#222" stroke-width="0.80" />
<circle cx="314.60" cy="749.00" r="4.70" fill="#3d7fbb" stroke="#222" stroke-width="0.80" />
<circle cx="319.80" cy="746.40" r="4.70" fill="#3d7fbb" stroke="#222" stroke-width="0.80" />
<circle cx="329.00" cy="749.00" r="4.70" fill="#3d7fbb" stroke="#222" stroke-width="0.80" />
<circle cx="340.90" cy="745.10" r="4.70" fill="#3d7fbb" stroke="#222" stroke-width="0.80" />
<circle cx="354.00" cy="743.80" r="4.70" fill="#3d7fbb" stroke="#222" stroke-width="0.80" />
<circle cx="364.50" cy="747.70" r="4.70" fill="#3d7fbb" stroke="#222" stroke-width="0.80" />
<circle cx="377.60" cy="741.20" r="4.70" fill="#3d7fbb" stroke="#222" stroke-width="0.80" />
<circle cx="385.50" cy="745.10" r="4.70" fill="#3d7fbb" stroke="#222" stroke-width="0.80" />
<circle cx="391.20" cy="746.70" r="4.70" fill="#3d7fbb" stroke="#222" stroke-width="0.80" />
<circle cx="399.90" cy="741.80" r="4.70" fill="#3d7fbb" stroke="#222" stroke-width="0.80" />
<circle cx="478.10" cy="729.40" r="4.70" fill="#3d7fbb" stroke="#222" stroke-width="0.80" />
<circle cx="500.40" cy="731.80" r="4.70" fill="#3d7fbb" stroke="#222" stroke-width="0.80" />
<circle cx="511.60" cy="733.10" r="4.70" fill="#3d7fbb" stroke="#222" stroke-width="0.80" />
<circle cx="509.10" cy="740.50" r="4.70" fill="#3d7fbb" stroke="#222" stroke-width="0.80" />
<circle cx="525.30" cy="733.10" r="4.70" fill="#3d7fbb" stroke="#222" stroke-width="0.80" />
<circle cx="526.50" cy="740.50" r="4.70" fill="#3d7fbb" stroke="#222" stroke-width="0.80" />
<circle cx="532.70" cy="736.80" r="4.70" fill="#3d7fbb" stroke="#222" stroke-width="0.80" />
<circle cx="538.90" cy="735.60" r="4.70" fill="#3d7fbb" stroke="#222" stroke-width="0.80" />
<circle cx="543.90" cy="740.50" r="4.70" fill="#3d7fbb" stroke="#222" stroke-width="0.80" />
<circle cx="552.60" cy="734.30" r="4.70" fill="#3d7fbb" stroke="#222" stroke-width="0.80" />
<circle cx="558.80" cy="731.80" r="4.70" fill="#3d7fbb" stroke="#222" stroke-width="0.80" />
<circle cx="502.20" cy="731.40" r="4.70" fill="#3d7fbb" stroke="#222" stroke-width="0.80" />
<circle cx="570.10" cy="737.20" r="4.70" fill="#3d7fbb" stroke="#222" stroke-width="0.80" />
<circle cx="575.90" cy="732.80" r="4.70" fill="#3d7fbb" stroke="#222" stroke-width="0.80" />
<circle cx="581.80" cy="737.20" r="4.70" fill="#3d7fbb" stroke="#222" stroke-width="0.80" />
<circle cx="599.30" cy="732.80" r="4.70" fill="#3d7fbb" stroke="#222" stroke-width="0.80" />
<circle cx="585.00" cy="737.20" r="4.70" fill="#3d7fbb" stroke="#222" stroke-width="0.80" />
<circle cx="601.10" cy="734.30" r="4.70" fill="#3d7fbb" stroke="#222" stroke-width="0.80" />
<circle cx="610.10" cy="723.40" r="4.70" fill="#3d7fbb" stroke="#222" stroke-width="0.80" />
<circle cx="614.20" cy="735.00" r="4.70" fill="#3d7fbb" stroke="#222" stroke-width="0.80" />
<circle cx="618.60" cy="737.20" r="4.70" fill="#3d7fbb" stroke="#222" stroke-width="0.80" />
<circle cx="623.20" cy="728.50" r="4.70" fill="#3d7fbb" stroke="#222" stroke-width="0.80" />
<circle cx="628.80" cy="735.00" r="4.70" fill="#3d7fbb" stroke="#222" stroke-width="0.80" />
<circle cx="636.80" cy="734.30" r="4.70" fill="#3d7fbb" stroke="#222" stroke-width="0.80" />
<circle cx="639.00" cy="729.20" r="4.70" fill="#3d7fbb" stroke="#222" stroke-width="0.80" />
<circle cx="642.70" cy="729.90" r="4.70" fill="#3d7fbb" stroke="#222" stroke-width="0.80" />
<circle cx="644.90" cy="732.10" r="4.70" fill="#3d7fbb" stroke="#222" stroke-width="0.80" />
<circle cx="296.00" cy="751.00" r="4.70" fill="#3d7fbb" stroke="#222" stroke-width="0.80" />
<circle cx="306.00" cy="745.00" r="4.70" fill="#3d7fbb" stroke="#222" stroke-width="0.80" />
<circle cx="283.00" cy="748.00" r="4.70" fill="#3d7fbb" stroke="#222" stroke-width="0.80" />
<circle cx="268.00" cy="749.00" r="4.70" fill="#3d7fbb" stroke="#222" stroke-width="0.80" />
<circle cx="252.00" cy="756.00" r="4.70" fill="#3d7fbb" stroke="#222" stroke-width="0.80" />
<circle cx="350.00" cy="747.00" r="4.70" fill="#3d7fbb" stroke="#222" stroke-width="0.80" />
<circle cx="405.00" cy="744.00" r="4.70" fill="#3d7fbb" stroke="#222" stroke-width="0.80" />
<circle cx="420.00" cy="741.00" r="4.70" fill="#3d7fbb" stroke="#222" stroke-width="0.80" />
<circle cx="440.00" cy="742.00" r="4.70" fill="#3d7fbb" stroke="#222" stroke-width="0.80" />
<circle cx="460.00" cy="740.00" r="4.70" fill="#3d7fbb" stroke="#222" stroke-width="0.80" />
<circle cx="470.00" cy="737.00" r="4.70" fill="#3d7fbb" stroke="#222" stroke-width="0.80" />
<circle cx="284.00" cy="692.00" r="4.70" fill="#ef7f23" stroke="#222" stroke-width="0.80" />
<circle cx="289.00" cy="686.00" r="4.70" fill="#ef7f23" stroke="#222" stroke-width="0.80" />
<circle cx="300.00" cy="695.00" r="4.70" fill="#ef7f23" stroke="#222" stroke-width="0.80" />
<circle cx="307.00" cy="697.00" r="4.70" fill="#ef7f23" stroke="#222" stroke-width="0.80" />
<circle cx="313.00" cy="700.00" r="4.70" fill="#ef7f23" stroke="#222" stroke-width="0.80" />
<circle cx="318.00" cy="703.00" r="4.70" fill="#ef7f23" stroke="#222" stroke-width="0.80" />
<circle cx="324.00" cy="706.00" r="4.70" fill="#ef7f23" stroke="#222" stroke-width="0.80" />
<circle cx="329.00" cy="704.00" r="4.70" fill="#ef7f23" stroke="#222" stroke-width="0.80" />
<circle cx="334.00" cy="713.00" r="4.70" fill="#ef7f23" stroke="#222" stroke-width="0.80" />
<circle cx="340.00" cy="712.00" r="4.70" fill="#ef7f23" stroke="#222" stroke-width="0.80" />
<circle cx="345.00" cy="720.00" r="4.70" fill="#ef7f23" stroke="#222" stroke-width="0.80" />
<circle cx="352.00" cy="716.00" r="4.70" fill="#ef7f23" stroke="#222" stroke-width="0.80" />
<circle cx="358.00" cy="724.00" r="4.70" fill="#ef7f23" stroke="#222" stroke-width="0.80" />
<circle cx="366.00" cy="726.00" r="4.70" fill="#ef7f23" stroke="#222" stroke-width="0.80" />
<circle cx="372.00" cy="730.00" r="4.70" fill="#ef7f23" stroke="#222" stroke-width="0.80" />
<circle cx="380.00" cy="731.00" r="4.70" fill="#ef7f23" stroke="#222" stroke-width="0.80" />
<circle cx="386.00" cy="736.00" r="4.70" fill="#ef7f23" stroke="#222" stroke-width="0.80" />
<circle cx="297.00" cy="704.00" r="4.70" fill="#ef7f23" stroke="#222" stroke-width="0.80" />
<circle cx="303.00" cy="709.00" r="4.70" fill="#ef7f23" stroke="#222" stroke-width="0.80" />
<circle cx="314.00" cy="713.00" r="4.70" fill="#ef7f23" stroke="#222" stroke-width="0.80" />
<circle cx="331.00" cy="720.00" r="4.70" fill="#ef7f23" stroke="#222" stroke-width="0.80" />
<circle cx="348.00" cy="731.00" r="4.70" fill="#ef7f23" stroke="#222" stroke-width="0.80" />
<circle cx="264.90" cy="693.40" r="4.70" fill="#ef7f23" stroke="#222" stroke-width="0.80" />
<circle cx="274.30" cy="680.50" r="4.70" fill="#ef7f23" stroke="#222" stroke-width="0.80" />
<circle cx="273.70" cy="689.30" r="4.70" fill="#ef7f23" stroke="#222" stroke-width="0.80" />
<circle cx="277.20" cy="694.50" r="4.70" fill="#ef7f23" stroke="#222" stroke-width="0.80" />
<circle cx="281.90" cy="685.20" r="4.70" fill="#ef7f23" stroke="#222" stroke-width="0.80" />
<circle cx="283.00" cy="696.30" r="4.70" fill="#ef7f23" stroke="#222" stroke-width="0.80" />
<circle cx="286.50" cy="700.40" r="4.70" fill="#ef7f23" stroke="#222" stroke-width="0.80" />
<circle cx="287.70" cy="689.30" r="4.70" fill="#ef7f23" stroke="#222" stroke-width="0.80" />
<circle cx="291.80" cy="679.90" r="4.70" fill="#ef7f23" stroke="#222" stroke-width="0.80" />
<circle cx="292.40" cy="688.10" r="4.70" fill="#ef7f23" stroke="#222" stroke-width="0.80" />
<circle cx="294.70" cy="701.50" r="4.70" fill="#ef7f23" stroke="#222" stroke-width="0.80" />
<circle cx="295.90" cy="693.40" r="4.70" fill="#ef7f23" stroke="#222" stroke-width="0.80" />
<circle cx="302.30" cy="691.60" r="4.70" fill="#ef7f23" stroke="#222" stroke-width="0.80" />
<circle cx="300.50" cy="702.70" r="4.70" fill="#ef7f23" stroke="#222" stroke-width="0.80" />
<circle cx="306.40" cy="701.00" r="4.70" fill="#ef7f23" stroke="#222" stroke-width="0.80" />
<circle cx="309.90" cy="703.90" r="4.70" fill="#ef7f23" stroke="#222" stroke-width="0.80" />
<circle cx="309.90" cy="712.60" r="4.70" fill="#ef7f23" stroke="#222" stroke-width="0.80" />
<circle cx="315.70" cy="705.00" r="4.70" fill="#ef7f23" stroke="#222" stroke-width="0.80" />
<circle cx="323.30" cy="703.30" r="4.70" fill="#ef7f23" stroke="#222" stroke-width="0.80" />
<circle cx="327.40" cy="710.30" r="4.70" fill="#ef7f23" stroke="#222" stroke-width="0.80" />
<circle cx="318.60" cy="715.50" r="4.70" fill="#ef7f23" stroke="#222" stroke-width="0.80" />
<circle cx="332.10" cy="707.40" r="4.70" fill="#ef7f23" stroke="#222" stroke-width="0.80" />
<circle cx="279.00" cy="690.00" r="4.70" fill="#ef7f23" stroke="#222" stroke-width="0.80" />
<circle cx="285.00" cy="683.00" r="4.70" fill="#ef7f23" stroke="#222" stroke-width="0.80" />
<circle cx="290.00" cy="696.00" r="4.70" fill="#ef7f23" stroke="#222" stroke-width="0.80" />
<circle cx="298.00" cy="697.00" r="4.70" fill="#ef7f23" stroke="#222" stroke-width="0.80" />
<circle cx="304.00" cy="706.00" r="4.70" fill="#ef7f23" stroke="#222" stroke-width="0.80" />
<circle cx="312.00" cy="709.00" r="4.70" fill="#ef7f23" stroke="#222" stroke-width="0.80" />
<circle cx="320.00" cy="708.00" r="4.70" fill="#ef7f23" stroke="#222" stroke-width="0.80" />
<circle cx="326.00" cy="714.00" r="4.70" fill="#ef7f23" stroke="#222" stroke-width="0.80" />
<circle cx="310.60" cy="701.70" r="4.70" fill="#ef7f23" stroke="#222" stroke-width="0.80" />
<circle cx="317.20" cy="707.00" r="4.70" fill="#ef7f23" stroke="#222" stroke-width="0.80" />
<circle cx="323.00" cy="702.50" r="4.70" fill="#ef7f23" stroke="#222" stroke-width="0.80" />
<circle cx="326.40" cy="710.90" r="4.70" fill="#ef7f23" stroke="#222" stroke-width="0.80" />
<circle cx="319.30" cy="717.50" r="4.70" fill="#ef7f23" stroke="#222" stroke-width="0.80" />
<circle cx="318.50" cy="724.10" r="4.70" fill="#ef7f23" stroke="#222" stroke-width="0.80" />
<circle cx="333.00" cy="710.90" r="4.70" fill="#ef7f23" stroke="#222" stroke-width="0.80" />
<circle cx="330.40" cy="716.20" r="4.70" fill="#ef7f23" stroke="#222" stroke-width="0.80" />
<circle cx="342.20" cy="717.50" r="4.70" fill="#ef7f23" stroke="#222" stroke-width="0.80" />
<circle cx="343.50" cy="725.40" r="4.70" fill="#ef7f23" stroke="#222" stroke-width="0.80" />
<circle cx="335.60" cy="722.80" r="4.70" fill="#ef7f23" stroke="#222" stroke-width="0.80" />
<circle cx="347.40" cy="728.00" r="4.70" fill="#ef7f23" stroke="#222" stroke-width="0.80" />
<circle cx="356.60" cy="718.80" r="4.70" fill="#ef7f23" stroke="#222" stroke-width="0.80" />
<circle cx="361.90" cy="708.80" r="4.70" fill="#ef7f23" stroke="#222" stroke-width="0.80" />
<circle cx="363.20" cy="720.10" r="4.70" fill="#ef7f23" stroke="#222" stroke-width="0.80" />
<circle cx="339.50" cy="733.30" r="4.70" fill="#ef7f23" stroke="#222" stroke-width="0.80" />
<circle cx="357.90" cy="730.60" r="4.70" fill="#ef7f23" stroke="#222" stroke-width="0.80" />
<circle cx="367.10" cy="730.60" r="4.70" fill="#ef7f23" stroke="#222" stroke-width="0.80" />
<circle cx="376.30" cy="732.00" r="4.70" fill="#ef7f23" stroke="#222" stroke-width="0.80" />
<circle cx="388.20" cy="733.30" r="4.70" fill="#ef7f23" stroke="#222" stroke-width="0.80" />
<circle cx="394.70" cy="739.80" r="4.70" fill="#ef7f23" stroke="#222" stroke-width="0.80" />
<circle cx="338.00" cy="715.00" r="4.70" fill="#ef7f23" stroke="#222" stroke-width="0.80" />
<circle cx="350.00" cy="722.00" r="4.70" fill="#ef7f23" stroke="#222" stroke-width="0.80" />
<circle cx="354.00" cy="728.00" r="4.70" fill="#ef7f23" stroke="#222" stroke-width="0.80" />
<circle cx="362.00" cy="733.00" r="4.70" fill="#ef7f23" stroke="#222" stroke-width="0.80" />
<circle cx="371.00" cy="735.00" r="4.70" fill="#ef7f23" stroke="#222" stroke-width="0.80" />
<circle cx="381.00" cy="736.00" r="4.70" fill="#ef7f23" stroke="#222" stroke-width="0.80" />
<circle cx="391.20" cy="735.60" r="4.70" fill="#ef7f23" stroke="#222" stroke-width="0.80" />
<circle cx="392.50" cy="741.80" r="4.70" fill="#ef7f23" stroke="#222" stroke-width="0.80" />
<circle cx="398.70" cy="735.60" r="4.70" fill="#ef7f23" stroke="#222" stroke-width="0.80" />
<circle cx="404.90" cy="740.50" r="4.70" fill="#ef7f23" stroke="#222" stroke-width="0.80" />
<circle cx="409.90" cy="734.30" r="4.70" fill="#ef7f23" stroke="#222" stroke-width="0.80" />
<circle cx="418.50" cy="739.30" r="4.70" fill="#ef7f23" stroke="#222" stroke-width="0.80" />
<circle cx="418.50" cy="745.50" r="4.70" fill="#ef7f23" stroke="#222" stroke-width="0.80" />
<circle cx="427.20" cy="738.00" r="4.70" fill="#ef7f23" stroke="#222" stroke-width="0.80" />
<circle cx="435.90" cy="735.60" r="4.70" fill="#ef7f23" stroke="#222" stroke-width="0.80" />
<circle cx="439.60" cy="731.80" r="4.70" fill="#ef7f23" stroke="#222" stroke-width="0.80" />
<circle cx="442.10" cy="739.30" r="4.70" fill="#ef7f23" stroke="#222" stroke-width="0.80" />
<circle cx="444.60" cy="746.70" r="4.70" fill="#ef7f23" stroke="#222" stroke-width="0.80" />
<circle cx="452.00" cy="740.50" r="4.70" fill="#ef7f23" stroke="#222" stroke-width="0.80" />
<circle cx="458.30" cy="744.20" r="4.70" fill="#ef7f23" stroke="#222" stroke-width="0.80" />
<circle cx="463.20" cy="738.00" r="4.70" fill="#ef7f23" stroke="#222" stroke-width="0.80" />
<circle cx="463.20" cy="744.20" r="4.70" fill="#ef7f23" stroke="#222" stroke-width="0.80" />
<circle cx="469.40" cy="741.80" r="4.70" fill="#ef7f23" stroke="#222" stroke-width="0.80" />
<circle cx="479.40" cy="740.50" r="4.70" fill="#ef7f23" stroke="#222" stroke-width="0.80" />
<circle cx="488.00" cy="738.00" r="4.70" fill="#ef7f23" stroke="#222" stroke-width="0.80" />
<circle cx="490.50" cy="741.80" r="4.70" fill="#ef7f23" stroke="#222" stroke-width="0.80" />
<circle cx="496.70" cy="746.70" r="4.70" fill="#ef7f23" stroke="#222" stroke-width="0.80" />
<circle cx="502.90" cy="741.80" r="4.70" fill="#ef7f23" stroke="#222" stroke-width="0.80" />
<circle cx="516.60" cy="740.50" r="4.70" fill="#ef7f23" stroke="#222" stroke-width="0.80" />
<circle cx="531.50" cy="738.00" r="4.70" fill="#ef7f23" stroke="#222" stroke-width="0.80" />
<circle cx="537.70" cy="741.80" r="4.70" fill="#ef7f23" stroke="#222" stroke-width="0.80" />
<circle cx="538.90" cy="748.00" r="4.70" fill="#ef7f23" stroke="#222" stroke-width="0.80" />
<circle cx="547.60" cy="748.00" r="4.70" fill="#ef7f23" stroke="#222" stroke-width="0.80" />
<circle cx="502.90" cy="743.10" r="4.70" fill="#ef7f23" stroke="#222" stroke-width="0.80" />
<circle cx="500.70" cy="746.70" r="4.70" fill="#ef7f23" stroke="#222" stroke-width="0.80" />
<circle cx="516.80" cy="740.10" r="4.70" fill="#ef7f23" stroke="#222" stroke-width="0.80" />
<circle cx="531.40" cy="738.70" r="4.70" fill="#ef7f23" stroke="#222" stroke-width="0.80" />
<circle cx="538.00" cy="740.90" r="4.70" fill="#ef7f23" stroke="#222" stroke-width="0.80" />
<circle cx="538.70" cy="747.40" r="4.70" fill="#ef7f23" stroke="#222" stroke-width="0.80" />
<circle cx="547.40" cy="747.40" r="4.70" fill="#ef7f23" stroke="#222" stroke-width="0.80" />
<circle cx="630.00" cy="740.90" r="4.70" fill="#ef7f23" stroke="#222" stroke-width="0.80" />
<path d="M219.70,647.70 C224.13,648.70 237.50,651.92 246.30,653.70 C255.10,655.48 263.97,656.75 272.50,658.40 C281.03,660.05 289.17,661.85 297.50,663.60 C305.83,665.35 313.97,666.92 322.50,668.90 C331.03,670.88 340.17,673.53 348.70,675.50 C357.23,677.47 365.25,679.17 373.70,680.70 C382.15,682.23 390.77,683.42 399.40,684.70 C408.03,685.98 416.93,686.83 425.50,688.40 C434.07,689.97 442.32,692.23 450.80,694.10 C459.28,695.97 467.92,697.78 476.40,699.60 C484.88,701.42 493.22,703.07 501.70,705.00 C510.18,706.93 518.82,709.30 527.30,711.20 C535.78,713.10 544.13,714.82 552.60,716.40 C561.07,717.98 571.25,719.57 578.10,720.70 C584.95,721.83 591.10,722.78 593.70,723.20" fill="none" stroke="#000" stroke-width="5.0" stroke-dasharray="5.0,8.1"/>
<path d="M110.40,756.50 C115.13,755.82 129.70,753.52 138.80,752.40 C147.90,751.28 156.30,750.62 165.00,749.80 C173.70,748.98 182.38,748.15 191.00,747.50 C199.62,746.85 208.03,746.45 216.70,745.90 C225.37,745.35 232.17,744.85 243.00,744.20 C253.83,743.55 266.48,742.73 281.70,742.00 C296.92,741.27 316.78,740.38 334.30,739.80 C351.82,739.22 369.45,738.92 386.80,738.50 C404.15,738.08 421.12,737.67 438.40,737.30 C455.68,736.93 473.33,736.67 490.50,736.30 C507.67,735.93 524.07,735.43 541.40,735.10 C558.73,734.77 576.65,734.55 594.50,734.30 C612.35,734.05 639.50,733.72 648.50,733.60" fill="none" stroke="#000" stroke-width="5.0" stroke-dasharray="5.0,8.1"/>
</g>
<rect x="83.50" y="600.60" width="597.90" height="208.20" fill="none" stroke="#000" stroke-width="0.9"/>
<line x1="80.00" y1="616.40" x2="83.50" y2="616.40" stroke="#000" stroke-width="0.90" />
<text x="76.30" y="623.00" font-size="17.80" fill="#000" text-anchor="end" textLength="39.63" lengthAdjust="spacingAndGlyphs">0.55</text>
<line x1="80.00" y1="671.44" x2="83.50" y2="671.44" stroke="#000" stroke-width="0.90" />
<text x="76.30" y="678.04" font-size="17.80" fill="#000" text-anchor="end" textLength="39.63" lengthAdjust="spacingAndGlyphs">0.50</text>
<line x1="80.00" y1="726.47" x2="83.50" y2="726.47" stroke="#000" stroke-width="0.90" />
<text x="76.30" y="733.07" font-size="17.80" fill="#000" text-anchor="end" textLength="39.63" lengthAdjust="spacingAndGlyphs">0.45</text>
<line x1="80.00" y1="781.50" x2="83.50" y2="781.50" stroke="#000" stroke-width="0.90" />
<text x="76.30" y="788.11" font-size="17.80" fill="#000" text-anchor="end" textLength="39.63" lengthAdjust="spacingAndGlyphs">0.40</text>
<line x1="114.80" y1="808.80" x2="114.80" y2="812.30" stroke="#000" stroke-width="0.90" />
<text x="114.80" y="829.10" font-size="17.80" fill="#000" text-anchor="middle" textLength="28.31" lengthAdjust="spacingAndGlyphs">0.1</text>
<line x1="234.60" y1="808.80" x2="234.60" y2="812.30" stroke="#000" stroke-width="0.90" />
<text x="234.60" y="829.10" font-size="17.80" fill="#000" text-anchor="middle" textLength="28.31" lengthAdjust="spacingAndGlyphs">0.2</text>
<line x1="354.40" y1="808.80" x2="354.40" y2="812.30" stroke="#000" stroke-width="0.90" />
<text x="354.40" y="829.10" font-size="17.80" fill="#000" text-anchor="middle" textLength="28.31" lengthAdjust="spacingAndGlyphs">0.3</text>
<line x1="474.20" y1="808.80" x2="474.20" y2="812.30" stroke="#000" stroke-width="0.90" />
<text x="474.20" y="829.10" font-size="17.80" fill="#000" text-anchor="middle" textLength="28.31" lengthAdjust="spacingAndGlyphs">0.4</text>
<line x1="594.00" y1="808.80" x2="594.00" y2="812.30" stroke="#000" stroke-width="0.90" />
<text x="594.00" y="829.10" font-size="17.80" fill="#000" text-anchor="middle" textLength="28.31" lengthAdjust="spacingAndGlyphs">0.5</text>
<text x="28.10" y="704.70" font-size="17.80" fill="#000" text-anchor="middle" textLength="108.76" lengthAdjust="spacingAndGlyphs" transform="rotate(-90 28.10 704.70)">Efficiency, <tspan font-style="italic">η</tspan></text>
<text x="381.80" y="850.20" font-size="17.80" fill="#000" text-anchor="middle" textLength="215.91" lengthAdjust="spacingAndGlyphs">Power Characteristic, <tspan font-style="italic">PC</tspan></text>
<line x1="306.70" y1="625.20" x2="210.00" y2="625.20" stroke="#000" stroke-width="2.60" />
<path d="M192.6,625.3 L223.4,619.6 L217.8,625.3 L223.4,631.2 Z" fill="#000" stroke="#000" stroke-width="1.2" stroke-linejoin="miter"/>
<line x1="546.70" y1="624.90" x2="450.00" y2="624.90" stroke="#000" stroke-width="2.60" />
<path d="M431.6,625.0 L462.4,619.3 L456.8,625.0 L462.4,630.9 Z" fill="#000" stroke="#000" stroke-width="1.2" stroke-linejoin="miter"/>
<text x="367.90" y="620.90" font-size="16.40" fill="#ef7f23" text-anchor="middle" textLength="101.19" lengthAdjust="spacingAndGlyphs">Increasing <tspan font-style="italic">α</tspan></text>
<text x="367.90" y="641.40" font-size="16.40" fill="#3d7fbb" text-anchor="middle" textLength="109.22" lengthAdjust="spacingAndGlyphs">Decreasing <tspan font-style="italic">C</tspan></text>
<line x1="574.90" y1="618.50" x2="603.10" y2="618.50" stroke="#000" stroke-width="5.00" stroke-dasharray="5.0,8.1"/>
<text x="613.40" y="623.50" font-size="14.00" fill="#000" text-anchor="start" textLength="42.04" lengthAdjust="spacingAndGlyphs">Model</text>
<circle cx="589.30" cy="640.20" r="4.70" fill="#3d7fbb" stroke="#222" stroke-width="0.80" />
<circle cx="589.30" cy="660.60" r="4.70" fill="#ef7f23" stroke="#222" stroke-width="0.80" />
<text x="613.40" y="644.60" font-size="14.00" fill="#000" text-anchor="start" textLength="55.91" lengthAdjust="spacingAndGlyphs">Series-L</text>
<text x="613.40" y="665.10" font-size="14.00" fill="#000" text-anchor="start" textLength="45.86" lengthAdjust="spacingAndGlyphs">HillBot</text>
</svg></body></html>
